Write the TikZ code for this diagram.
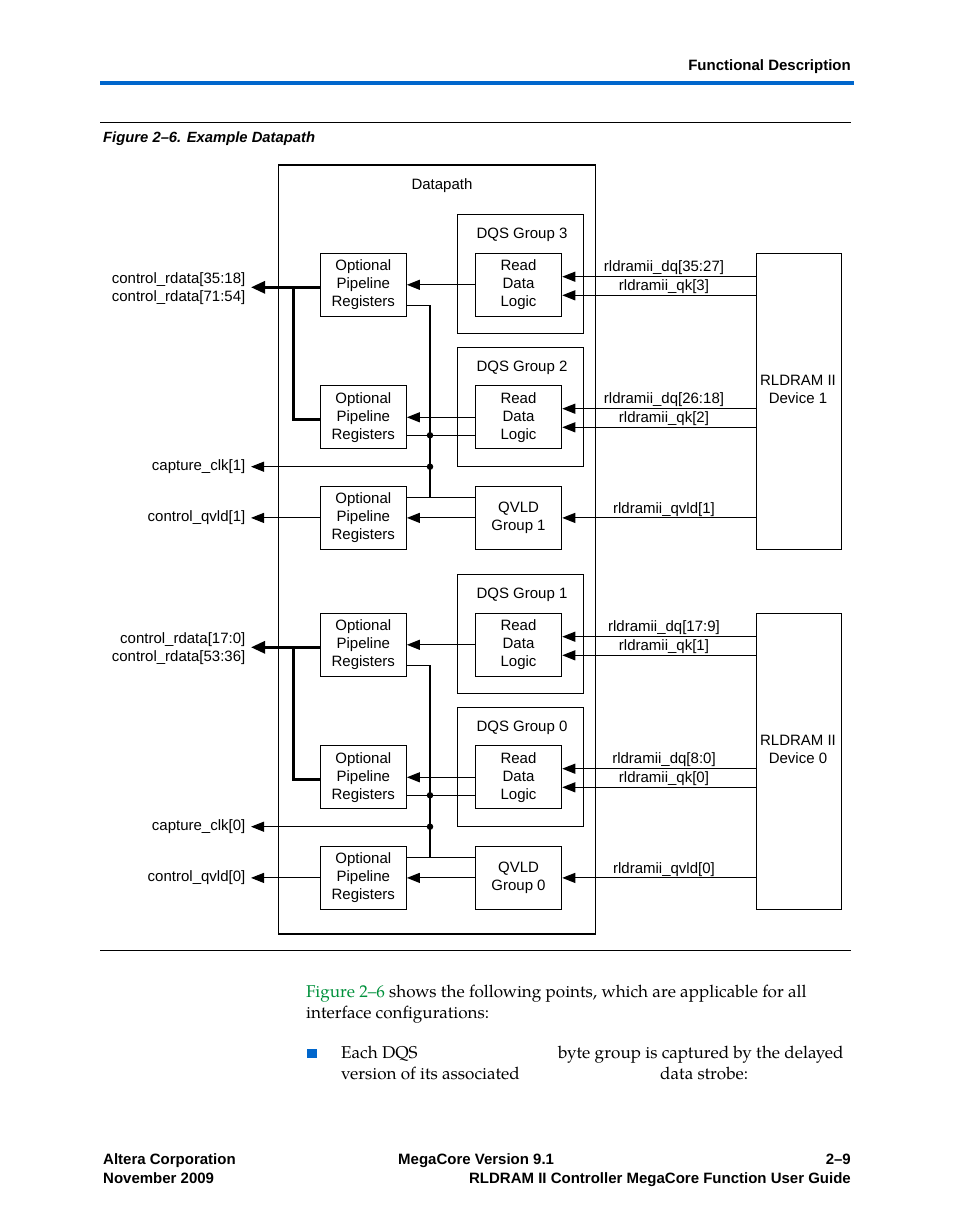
\documentclass[tikz,border=0pt]{standalone}
\usepackage{fontspec}
\usetikzlibrary{arrows.meta,calc}
\newfontfamily\hv{Liberation Sans}
\newfontfamily\pal{TeX Gyre Pagella}
\definecolor{altblue}{RGB}{0,102,204}
\definecolor{altgreen}{RGB}{0,145,60}
\begin{document}
\begin{tikzpicture}[x=1pt,y=-1pt,
  lbl/.style={font=\hv\fontsize{15}{18}\selectfont, inner sep=0pt, align=center},
  lblr/.style={font=\hv\fontsize{15}{18}\selectfont, inner sep=0pt, align=right, anchor=east},
  blk/.style={draw, line width=1.1pt, inner sep=0pt, font=\hv\fontsize{15}{18}\selectfont, align=center},
  wire/.style={line width=1.1pt},
  arr/.style={line width=1.1pt, -{Triangle[length=13pt,width=10pt]}},
  bus/.style={line width=3pt, line join=miter},
  busarr/.style={line width=3pt, -{Triangle[length=14pt,width=12pt]}},
  jdot/.style={circle, fill, inner sep=0pt, minimum size=6.5pt},
  hdr/.style={font=\hv\bfseries\fontsize{15}{18}\selectfont, inner sep=0pt},
  body/.style={font=\pal\fontsize{17.1}{21}\selectfont, inner sep=0pt, anchor=base west},
]
\useasboundingbox (0,0) rectangle (954,1227);
\fill[white] (0,0) rectangle (954,1227);

% header
\node[hdr, anchor=base east] (hdrtxt) at (851,70) {Functional Description};
\draw[altblue, line width=4pt] (100,83) -- (854,83);
\draw[line width=1pt] (100,122.5) -- (851,122.5);
\node[hdr, anchor=base west, font=\hv\bfseries\itshape\fontsize{14.8}{18}\selectfont] (figcap) at (103,142.4) {Figure 2–6. Example Datapath};

% datapath box
\node[blk, minimum width=317pt, minimum height=769pt] (dp) at (437,549.5) {};
\node[lbl] (dplbl) at (442,186) {Datapath};

\foreach \o/\n/\ga/\gb/\dqa/\qka/\dqb/\qkb/\cra/\crb in
  {0/1/3/2/35:27/3/26:18/2/35:18/71:54, 360/0/1/0/17:9/1/8:0/0/17:0/53:36}{
  % boxes
  \node[blk, minimum width=86pt, minimum height=63pt] (oa\n) at (363.3,{284.8+\o}) {Optional\\Pipeline\\Registers};
  \node[blk, minimum width=86pt, minimum height=63pt] (ob\n) at (363.3,{417.3+\o}) {Optional\\Pipeline\\Registers};
  \node[blk, minimum width=86pt, minimum height=63pt] (oc\n) at (363.3,{517.9+\o}) {Optional\\Pipeline\\Registers};
  \node[blk, minimum width=126pt, minimum height=119pt] (ga\n) at (520.3,{273.8+\o}) {};
  \node[lbl] (gal\n) at (522,{235+\o}) {DQS Group \ga};
  \node[blk, minimum width=126pt, minimum height=119pt] (gb\n) at (520.3,{407+\o}) {};
  \node[lbl] (gbl\n) at (522,{368+\o}) {DQS Group \gb};
  \node[blk, fill=white, minimum width=86.4pt, minimum height=63pt] (ra\n) at (518.5,{284.8+\o}) {Read\\Data\\Logic};
  \node[blk, fill=white, minimum width=86.4pt, minimum height=63pt] (rb\n) at (518.5,{417.3+\o}) {Read\\Data\\Logic};
  \node[blk, minimum width=86.4pt, minimum height=63pt] (q\n) at (518.5,{517.9+\o}) {QVLD\\Group \n};
  \node[blk, minimum width=85pt, minimum height=296pt] (d\n) at (799.2,{401.2+\o}) {};
  \node[lbl] (dl\n) at (798,{389.5+\o}) {RLDRAM II\\Device \n};

  % internal data arrows
  \draw[arr] (ra\n.west) -- (oa\n.east);
  \draw[arr] (rb\n.west) -- (ob\n.east);
  \draw[arr] (q\n.west) -- (oc\n.east);

  % device lines
  \coordinate (y1\n) at (0,{276.7+\o});
  \coordinate (y2\n) at (0,{295.3+\o});
  \coordinate (y3\n) at (0,{408.7+\o});
  \coordinate (y4\n) at (0,{427.3+\o});
  \coordinate (y5\n) at (0,{517.9+\o});
  \draw[arr] (d\n.west |- y1\n) -- (ra\n.east |- y1\n);
  \draw[arr] (d\n.west |- y2\n) -- (ra\n.east |- y2\n);
  \draw[arr] (d\n.west |- y3\n) -- (rb\n.east |- y3\n);
  \draw[arr] (d\n.west |- y4\n) -- (rb\n.east |- y4\n);
  \draw[arr] (d\n.west |- y5\n) -- (q\n.east |- y5\n);
  \node[lbl] (t1\n) at (664,{267.7+\o}) {rldramii\_dq[\dqa]};
  \node[lbl] (t2\n) at (664,{286.3+\o}) {rldramii\_qk[\qka]};
  \node[lbl] (t3\n) at (664,{399.7+\o}) {rldramii\_dq[\dqb]};
  \node[lbl] (t4\n) at (664,{418.3+\o}) {rldramii\_qk[\qkb]};
  \node[lbl] (t5\n) at (664,{509.3+\o}) {rldramii\_qvld[\n]};

  % clock distribution
  \coordinate (ja\n) at (430,{305.7+\o});
  \coordinate (jb\n) at (430,{435.3+\o});
  \coordinate (jk\n) at (430,{466.7+\o});
  \coordinate (jc\n) at (430,{497.3+\o});
  \draw[wire] (oa\n.east |- ja\n) -- (ja\n) -- (jc\n);
  \draw[wire] (ob\n.east |- jb\n) -- (rb\n.west |- jb\n);
  \draw[wire] (oc\n.east |- jc\n) -- (q\n.west |- jc\n);
  \node[jdot] (db\n) at (jb\n) {};
  \node[jdot] (dk\n) at (jk\n) {};

  % outputs
  \node[lblr] (lcr\n) at (245.5,{288.5+\o}) {control\_rdata[\cra]\\control\_rdata[\crb]};
  \node[lblr] (lck\n) at (245.5,{466.7+\o}) {capture\_clk[\n]};
  \node[lblr] (lcq\n) at (245.5,{517.9+\o}) {control\_qvld[\n]};
  \coordinate (ba\n) at (293,{287.3+\o});
  \coordinate (bb\n) at (293,{419.7+\o});
  \draw[busarr] (oa\n.west |- ba\n) -- ([xshift=5.5pt]lcr\n.east |- ba\n);
  \draw[bus] (ba\n) -- (bb\n) -- (ob\n.west |- bb\n);
  \draw[arr] (dk\n.center) -- ([xshift=5.5pt]lck\n.east);
  \draw[arr] (oc\n.west) -- ([xshift=5.5pt]lcq\n.east);
}

\draw[line width=1pt] (100,950.5) -- (851,950.5);

% body text
\node[body] (p1) at (306,997.7) {\textcolor{altgreen}{Figure 2–6} shows the following points, which are applicable for all};
\node[body] (p2) at (306,1018) {interface configurations:};
\node[fill=altblue, minimum width=10pt, minimum height=9.5pt, inner sep=0pt] (bul) at (312,1053.5) {};
\node[body] (p3) at (341,1058.3) {Each DQS};
\node[body] (p4) at (558,1058.3) {byte group is captured by the delayed};
\node[body] (p5) at (341,1079.5) {version of its associated};
\node[body] (p6) at (660,1079.5) {data strobe:};

% footer
\node[hdr, anchor=base west] (f1) at (103,1164.3) {Altera Corporation};
\node[hdr, anchor=base west] (f2) at (103,1183.3) {November 2009};
\node[hdr, anchor=base west] (f3) at (398,1164.3) {MegaCore Version 9.1};
\node[hdr, anchor=base east] (f4) at (851,1164.3) {2–9};
\node[hdr, anchor=base east] (f5) at (851,1183.3) {RLDRAM II Controller MegaCore Function User Guide};
\end{tikzpicture}
\end{document}
